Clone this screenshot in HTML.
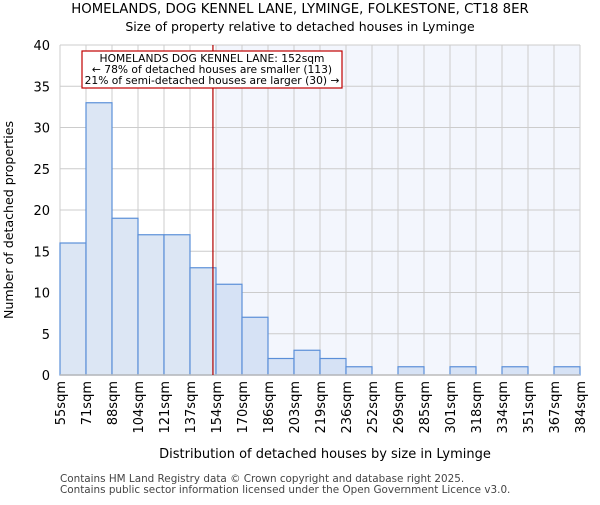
<!DOCTYPE html>
<html><head><meta charset="utf-8"><style>body{margin:0;background:#fff}svg{font-family:"DejaVu Sans","Liberation Sans",sans-serif}</style></head>
<body>
<svg id="c" width="600" height="500">
<text x="300" y="13" font-size="13.3" text-anchor="middle">HOMELANDS, DOG KENNEL LANE, LYMINGE, FOLKESTONE, CT18 8ER</text>
<text x="300" y="31" font-size="12.5" text-anchor="middle">Size of property relative to detached houses in Lyminge</text>
<g id="plot"></g>
<text x="325" y="458" font-size="13" text-anchor="middle">Distribution of detached houses by size in Lyminge</text>
<text transform="translate(13,220) rotate(-90)" font-size="12.6" text-anchor="middle">Number of detached properties</text>
<text x="60" y="482" font-size="10.4" fill="#444">Contains HM Land Registry data © Crown copyright and database right 2025.</text>
<text x="60" y="493" font-size="10.4" fill="#444">Contains public sector information licensed under the Open Government Licence v3.0.</text>
</svg>
<script>
const binLabels=["55sqm","71sqm","88sqm","104sqm","121sqm","137sqm","154sqm","170sqm","186sqm","203sqm","219sqm","236sqm","252sqm","269sqm","285sqm","301sqm","318sqm","334sqm","351sqm","367sqm","384sqm"];
const binEdges=[55,71,88,104,121,137,154,170,186,203,219,236,252,269,285,301,318,334,351,367,384];
const counts=[16,33,19,17,17,13,11,7,2,3,2,1,0,1,0,1,0,1,0,1];
const yTicks=[0,5,10,15,20,25,30,35,40];
const subjectSize=152;
const NS="http://www.w3.org/2000/svg";
const L=60,R=580,T=45,B=375,yMax=40;
const n=counts.length,bw=(R-L)/n;
const xi=i=>L+i*bw;
const y=v=>B-(v/yMax)*(B-T);
function xv(v){for(let i=0;i<binEdges.length-1;i++){if(v<=binEdges[i+1])return xi(i)+bw*(v-binEdges[i])/(binEdges[i+1]-binEdges[i]);}return R;}
const g=document.getElementById('plot');
function mk(t,a,p){const e=document.createElementNS(NS,t);for(const k in a)e.setAttribute(k,a[k]);(p||g).appendChild(e);return e;}
let si=binEdges.findIndex(e=>e>=subjectSize);
const sh=mk('rect',{x:xi(si),y:T,width:R-xi(si),height:B-T,fill:'#f3f6fd'});


for(let i=0;i<=n;i++){const l=mk('line',{x1:xi(i),x2:xi(i),y1:T,y2:B,stroke:'#ccc'});

}
yTicks.forEach(t=>{const l=mk('line',{x1:L,x2:R,y1:y(t),y2:y(t),stroke:'#ccc'});


const tx=mk('text',{x:L-10,y:y(t)+5,'font-size':13,'text-anchor':'end'});tx.textContent=t;

});
counts.forEach((c,i)=>{if(c<=0)return;const r=mk('rect',{x:xi(i),y:y(c),width:bw,height:B-y(c),fill:i<si?'#dce6f4':'#d6e2f5',stroke:'#5b8fd8','stroke-width':1.2});

});
mk('line',{x1:L,x2:R,y1:B,y2:B,stroke:'#bbb','stroke-width':1.5});
binLabels.forEach((s,i)=>{const tx=mk('text',{transform:`translate(${xi(i)+5},381) rotate(-90)`,'font-size':13,'text-anchor':'end'});tx.textContent=s;

});
const sx=xv(subjectSize);
const ml=mk('line',{x1:sx,x2:sx,y1:T,y2:B,stroke:'#b00000','stroke-width':1.2});


const box=mk('rect',{x:82,y:51,width:260,height:37,fill:'#fff',stroke:'#c00000','stroke-width':1.2});


["HOMELANDS DOG KENNEL LANE: 152sqm","← 78% of detached houses are smaller (113)","21% of semi-detached houses are larger (30) →"].forEach((s,k)=>{const tx=mk('text',{x:212,y:62+k*11,'font-size':10.7,'text-anchor':'middle'});tx.textContent=s;

});
</script>
</body></html>
